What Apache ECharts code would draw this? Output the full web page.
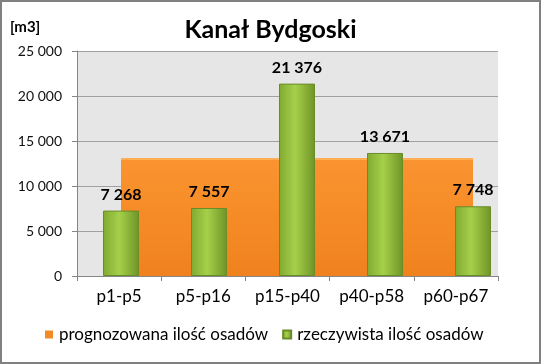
<!DOCTYPE html>
<html><head><meta charset="utf-8">
<script src="https://cdn.jsdelivr.net/npm/echarts@6/dist/echarts.min.js"></script>
<style>html,body{margin:0;padding:0;background:#fff}#c{width:541px;height:364px}</style>
</head><body><div id="c"></div>
<script>
const categories = ['p1-p5', 'p5-p16', 'p15-p40', 'p40-p58', 'p60-p67'];
const forecast = [13000, 13000, 13000, 13000, 13000];
const actual = [7268, 7557, 21376, 13671, 7748];
const yTicks = { min: 0, max: 25000, interval: 5000 };
const seriesNames = ['prognozowana ilość osadów', 'rzeczywista ilość osadów'];

const FONT = 'Lato';
const fmt = v => String(v).replace(/\B(?=(\d{3})+(?!\d))/g, ' ');

const chart = echarts.init(document.getElementById('c'), null, { renderer: 'canvas' });
chart.setOption({
  animation: false,
  backgroundColor: '#ffffff',
  title: {
    text: 'Kanał Bydgoski', left: 'center', top: 12,
    textStyle: { fontFamily: FONT, fontSize: 25, fontWeight: 'bold', color: '#000' }
  },
  graphic: [
    { type: 'rect', shape: { x: 1, y: 1, width: 539, height: 362 }, style: { fill: 'none', stroke: '#808080', lineWidth: 2 }, z: 100 },
    { type: 'text', left: 10, top: 20, style: { text: '[m3]', fontFamily: FONT, fontSize: 15, fontWeight: 'bold', fill: '#000' } }
  ],
  legend: {
    bottom: 16, left: 40, itemGap: 14, itemWidth: 8, itemHeight: 8,
    textStyle: { fontFamily: FONT, fontSize: 17, color: '#000', padding: [0, 0, 0, 1] },
    data: [
      { name: seriesNames[0], icon: 'rect' },
      { name: seriesNames[1], icon: 'rect' }
    ]
  },
  grid: [
    { left: 77, right: 43, top: 51, bottom: 88, show: true, backgroundColor: '#E6E6E6', borderWidth: 0 },
    { left: 77, width: 440, top: 51, bottom: 88 }
  ],
  xAxis: [
    {
      type: 'category', gridIndex: 0, data: categories, boundaryGap: true,
      axisLine: { lineStyle: { color: '#868686' } },
      axisTick: { show: true, length: 5, lineStyle: { color: '#868686' } },
      axisLabel: { interval: 0, fontFamily: FONT, fontSize: 17, color: '#000', margin: 12 }
    },
    { type: 'category', gridIndex: 1, data: categories, boundaryGap: true, show: false }
  ],
  yAxis: [
    {
      type: 'value', gridIndex: 0, min: yTicks.min, max: yTicks.max, interval: yTicks.interval,
      axisLine: { show: true, lineStyle: { color: '#868686' } },
      axisTick: { show: true, length: 5, lineStyle: { color: '#868686' } },
      splitLine: { lineStyle: { color: '#A0A0A0' } },
      axisLabel: { fontFamily: FONT, fontSize: 14, color: '#111', margin: 15, formatter: fmt }
    },
    { type: 'value', gridIndex: 1, min: yTicks.min, max: yTicks.max, show: false }
  ],
  series: [
    {
      name: seriesNames[0], type: 'line', xAxisIndex: 1, yAxisIndex: 1, data: forecast,
      symbol: 'none', z: 2,
      itemStyle: { color: '#F28A26' },
      lineStyle: { color: '#FFAE55', width: 2 },
      areaStyle: {
        opacity: 1,
        color: new echarts.graphic.LinearGradient(0, 0, 0, 1, [
          { offset: 0, color: '#FA9430' }, { offset: 1, color: '#F0821E' }
        ])
      }
    },
    {
      name: seriesNames[1], type: 'bar', xAxisIndex: 1, yAxisIndex: 1, data: actual,
      barWidth: 36, z: 3,
      itemStyle: {
        color: new echarts.graphic.LinearGradient(0, 0, 1, 0, [
          { offset: 0, color: '#7FAA30' }, { offset: 0.45, color: '#A5D04A' }, { offset: 1, color: '#6E9426' }
        ]),
        borderColor: '#6A8C28', borderWidth: 1
      },
      label: {
        show: true, position: 'top', distance: 8, formatter: p => fmt(p.value),
        fontFamily: FONT, fontSize: 16, fontWeight: 'bold', color: '#000'
      }
    }
  ]
});
</script></body></html>
